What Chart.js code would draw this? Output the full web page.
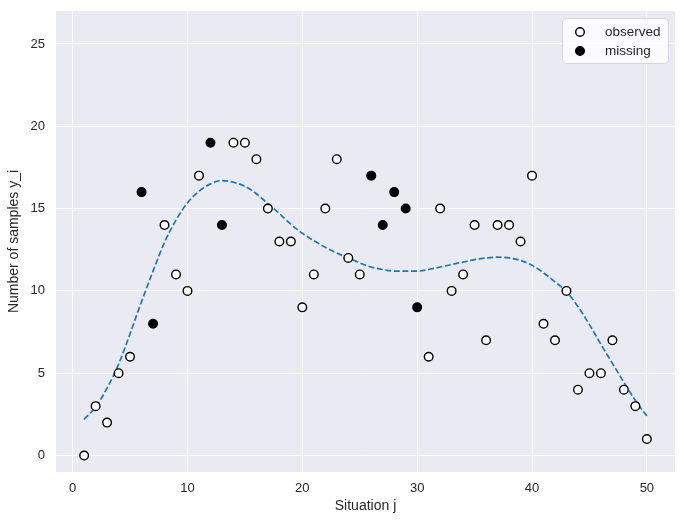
<!DOCTYPE html>
<html>
<head>
<meta charset="utf-8">
<script src="https://cdn.jsdelivr.net/npm/chart.js@4"></script>
<style>
  html, body { margin: 0; padding: 0; background: #ffffff; }
  #wrap { width: 684px; height: 525px; }
</style>
</head>
<body>
<div id="wrap"><canvas id="chart" width="684" height="525"></canvas></div>
<script>
// situation index j = 1..50
const situations = [1,2,3,4,5,6,7,8,9,10,11,12,13,14,15,16,17,18,19,20,
  21,22,23,24,25,26,27,28,29,30,31,32,33,34,35,36,37,38,39,40,
  41,42,43,44,45,46,47,48,49,50];

// observed counts (null where the value is missing)
const observed = [0,3,2,5,6,null,null,14,11,10,17,null,null,19,19,18,15,13,13,9,
  11,15,18,12,11,null,null,null,null,null,6,15,10,11,14,7,14,14,13,17,
  8,7,10,4,5,5,7,4,3,1];

// missing counts (only at the missing situations)
const missing = [null,null,null,null,null,16,8,null,null,null,null,19,14,null,null,null,null,null,null,null,
  null,null,null,null,null,17,14,16,15,9,null,null,null,null,null,null,null,null,null,null,
  null,null,null,null,null,null,null,null,null,null];

// fitted curve
const fitted = [2.2,2.95,4.1,5.55,7.4,9.35,11.2,12.95,14.3,15.35,16.05,16.5,16.7,16.6,16.35,15.9,15.3,14.7,14.05,13.5,
  13.05,12.65,12.3,12.0,11.7,11.45,11.3,11.2,11.2,11.2,11.3,11.45,11.6,11.75,11.9,12.0,12.05,12.0,11.85,11.55,
  11.1,10.55,9.95,9.05,7.95,6.75,5.6,4.45,3.35,2.4];

const xTicks = [0, 10, 20, 30, 40, 50];
const yTicks = [0, 5, 10, 15, 20, 25];

function toPoints(ys) {
  const pts = [];
  ys.forEach(function (y, i) {
    if (y !== null) pts.push({ x: situations[i], y: y });
  });
  return pts;
}

const FONT = "'Liberation Sans', Arial, sans-serif";
const TEXT = "#262626";

// seaborn-like grey background of the axes
const bgPlugin = {
  id: "bg",
  beforeDraw(chart) {
    const a = chart.chartArea, ctx = chart.ctx;
    ctx.save();
    ctx.fillStyle = "#eaeaf2";
    ctx.fillRect(a.left, a.top, a.right - a.left, a.bottom - a.top);
    ctx.restore();
  }
};

// legend box in the upper right corner
const legendPlugin = {
  id: "boxLegend",
  afterDraw(chart) {
    const ctx = chart.ctx;
    const x0 = 562, y0 = 18, w = 106, h = 45, r = 4;
    ctx.save();
    ctx.beginPath();
    ctx.roundRect(x0 + 0.5, y0 + 0.5, w, h, r);
    ctx.fillStyle = "rgba(255,255,255,0.8)";
    ctx.fill();
    ctx.strokeStyle = "#d6d6d6";
    ctx.lineWidth = 1;
    ctx.stroke();
    const items = [chart.data.datasets[0], chart.data.datasets[1]];
    const rows = [32, 51];
    items.forEach(function (ds, i) {
      ctx.beginPath();
      ctx.arc(580, rows[i], ds.pointRadius, 0, Math.PI * 2);
      ctx.fillStyle = ds.backgroundColor;
      ctx.fill();
      ctx.lineWidth = ds.borderWidth;
      ctx.strokeStyle = ds.borderColor;
      ctx.stroke();
      ctx.fillStyle = TEXT;
      ctx.font = "13.5px " + FONT;
      ctx.textBaseline = "middle";
      ctx.textAlign = "left";
      ctx.fillText(ds.label, 605, rows[i]);
    });
    ctx.restore();
  }
};

const ctx = document.getElementById("chart").getContext("2d");
new Chart(ctx, {
  type: "scatter",
  data: {
    datasets: [
      {
        label: "observed",
        data: toPoints(observed),
        backgroundColor: "#ffffff",
        borderColor: "#000000",
        borderWidth: 1.4,
        pointRadius: 4.3,
        order: 1
      },
      {
        label: "missing",
        data: toPoints(missing),
        backgroundColor: "#000000",
        borderColor: "#000000",
        borderWidth: 1.4,
        pointRadius: 4.3,
        order: 2
      },
      {
        label: "fit",
        type: "line",
        data: toPoints(fitted),
        borderColor: "#1f77b4",
        borderWidth: 1.7,
        borderDash: [6, 2.6],
        pointRadius: 0,
        fill: false,
        cubicInterpolationMode: "monotone",
        order: 3
      }
    ]
  },
  options: {
    responsive: false,
    animation: false,
    layout: { padding: { left: 0, top: 11, right: 9, bottom: 0 } },
    plugins: {
      legend: { display: false },
      tooltip: { enabled: false }
    },
    scales: {
      x: {
        type: "linear",
        min: -1.45,
        max: 52.45,
        afterBuildTicks(scale) { scale.ticks = xTicks.map(v => ({ value: v })); },
        afterFit(scale) { scale.height = 53; scale.paddingLeft = 0; scale.paddingRight = 0; },
        grid: { color: "#ffffff", lineWidth: 1, drawTicks: false },
        border: { display: false },
        ticks: { padding: 9, color: TEXT, font: { family: FONT, size: 13 } },
        title: {
          display: true,
          text: "Situation j",
          color: TEXT,
          font: { family: FONT, size: 14 },
          padding: { top: 0, bottom: 10 }
        }
      },
      y: {
        type: "linear",
        min: -1,
        max: 27,
        afterBuildTicks(scale) { scale.ticks = yTicks.map(v => ({ value: v })); },
        afterFit(scale) { scale.width = 56; scale.paddingTop = 0; scale.paddingBottom = 0; },
        grid: { color: "#ffffff", lineWidth: 1, drawTicks: false },
        border: { display: false },
        ticks: { padding: 11, color: TEXT, font: { family: FONT, size: 13 } },
        title: {
          display: true,
          text: "Number of samples y_i",
          color: TEXT,
          font: { family: FONT, size: 14 },
          padding: { top: 6, bottom: 0 }
        }
      }
    }
  },
  plugins: [bgPlugin, legendPlugin]
});
</script>
</body>
</html>
